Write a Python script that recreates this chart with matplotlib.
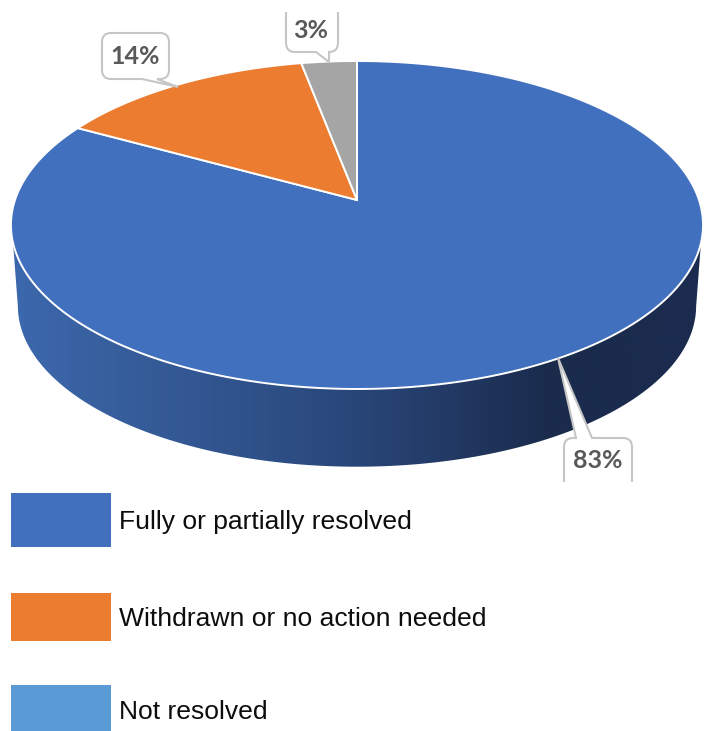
import numpy as np
import matplotlib
matplotlib.use("Agg")
import matplotlib.pyplot as plt
from matplotlib.path import Path
from matplotlib.patches import PathPatch, Polygon, Rectangle
from matplotlib.colors import LinearSegmentedColormap

categories = ["Fully or partially resolved", "Withdrawn or no action needed", "Not resolved"]
values = [83, 14, 3]
labels = ["83%", "14%", "3%"]
pie_colors = ["#4170BF", "#EB7C30", "#A5A5A5"]
legend_colors = ["#4170BF", "#EB7C30", "#5B9BD5"]

W, H = 710, 731
fig = plt.figure(figsize=(W / 100, H / 100), dpi=100)
ax = fig.add_axes([0, 0, 1, 1])
ax.set_xlim(0, W)
ax.set_ylim(H, 0)
ax.axis("off")

# Perspective projection of the unit disc
CX, AY, A, B, C = 357, 200, 342, -129.7, 0.1524
RIM_CY, LOW_SCALE, LOW_SHIFT = 225, 0.98, 81


def project(theta):
    x, y = np.sin(theta), np.cos(theta)
    d = 1 + C * y
    return CX + A * x / d, (AY + B * y) / d


# Side wall: visible upper rim joined to a slightly smaller lower rim
t = np.linspace(0, 2 * np.pi, 1441)[:-1]
xt, yt = project(t)
up = np.c_[xt, yt][(yt >= RIM_CY + 18)]
xl = CX + (xt - CX) * LOW_SCALE
yl = RIM_CY + (yt - RIM_CY) * LOW_SCALE + LOW_SHIFT
low = np.c_[xl, yl][yt >= RIM_CY]
wall = np.r_[up, low[::-1]]
wall_patch = Polygon(wall, closed=True, fc="none", ec="none")
ax.add_patch(wall_patch)
cmap = LinearSegmentedColormap.from_list(
    "wall",
    [(0, "#3C68AE"), (0.13, "#38609F"), (0.42, "#2C4C82"), (0.56, "#264170"),
     (0.70, "#1F3359"), (0.78, "#1A2B4C"), (1, "#1A2C50")],
)
img = ax.imshow(np.linspace(0, 1, 256)[None, :], extent=(11, 703, 480, 200), cmap=cmap,
                aspect="auto", zorder=1)
img.set_clip_path(wall_patch)
ax.set_xlim(0, W)
ax.set_ylim(H, 0)

# Top face wedges, clockwise from twelve o'clock
bounds = np.cumsum([0] + values) / sum(values) * 2 * np.pi
for i, col in enumerate(pie_colors):
    th = np.linspace(bounds[i], bounds[i + 1], 400)
    xs, ys = project(th)
    pts = np.r_[[[CX, AY]], np.c_[xs, ys]]
    ax.add_patch(Polygon(pts, closed=True, fc=col, ec="white", lw=1.4, zorder=2, joinstyle="miter"))


def callout(left, top, right, bottom, base, tip, side, clip=None):
    r = 9
    v = [(left + r, top)]
    c = [Path.MOVETO]
    if side == "top":
        v += [(base[0], top), tip, (base[1], top)]
        c += [Path.LINETO] * 3
    v += [(right - r, top), (right, top), (right, top + r), (right, bottom - r), (right, bottom), (right - r, bottom)]
    c += [Path.LINETO, Path.CURVE3, Path.CURVE3, Path.LINETO, Path.CURVE3, Path.CURVE3]
    if side == "bottom":
        v += [(base[1], bottom), tip, (base[0], bottom)]
        c += [Path.LINETO] * 3
    v += [(left + r, bottom), (left, bottom), (left, bottom - r), (left, top + r), (left, top), (left + r, top)]
    c += [Path.LINETO, Path.CURVE3, Path.CURVE3, Path.LINETO, Path.CURVE3, Path.CURVE3]
    p = PathPatch(Path(v, c), fc="white", ec="#C6C6C6", lw=1.5, zorder=3)
    ax.add_patch(p)
    if clip:
        p.set_clip_path(Rectangle((0, clip[0]), W, clip[1] - clip[0], transform=ax.transData))


callout(564, 438, 632, 500, (576, 592), (558, 358), "top", clip=(0, 482))
callout(102, 33, 169, 79, (142, 157), (178, 87), "bottom")
callout(286, -5, 338, 52, (316, 329), (329, 62), "bottom", clip=(12, H))

for txt, (x, y) in zip(labels, [(598, 460), (135, 57), (311, 30)]):
    ax.text(x, y, txt, family="Lato", weight="bold", fontsize=18, color="#595959",
            ha="center", va="center", zorder=4)

# Legend
swatch_y = [(493, 547), (593, 641), (685, 731)]
text_y = [522, 619, 712]
for name, col, (y0, y1), ty in zip(categories, legend_colors, swatch_y, text_y):
    ax.add_patch(Rectangle((11, y0), 100, y1 - y0, fc=col, ec="none"))
    ax.text(119, ty, name, family="Liberation Sans", fontsize=19.05, color="#0D0D0D",
            ha="left", va="center")

fig.savefig("out.png", dpi=100)
